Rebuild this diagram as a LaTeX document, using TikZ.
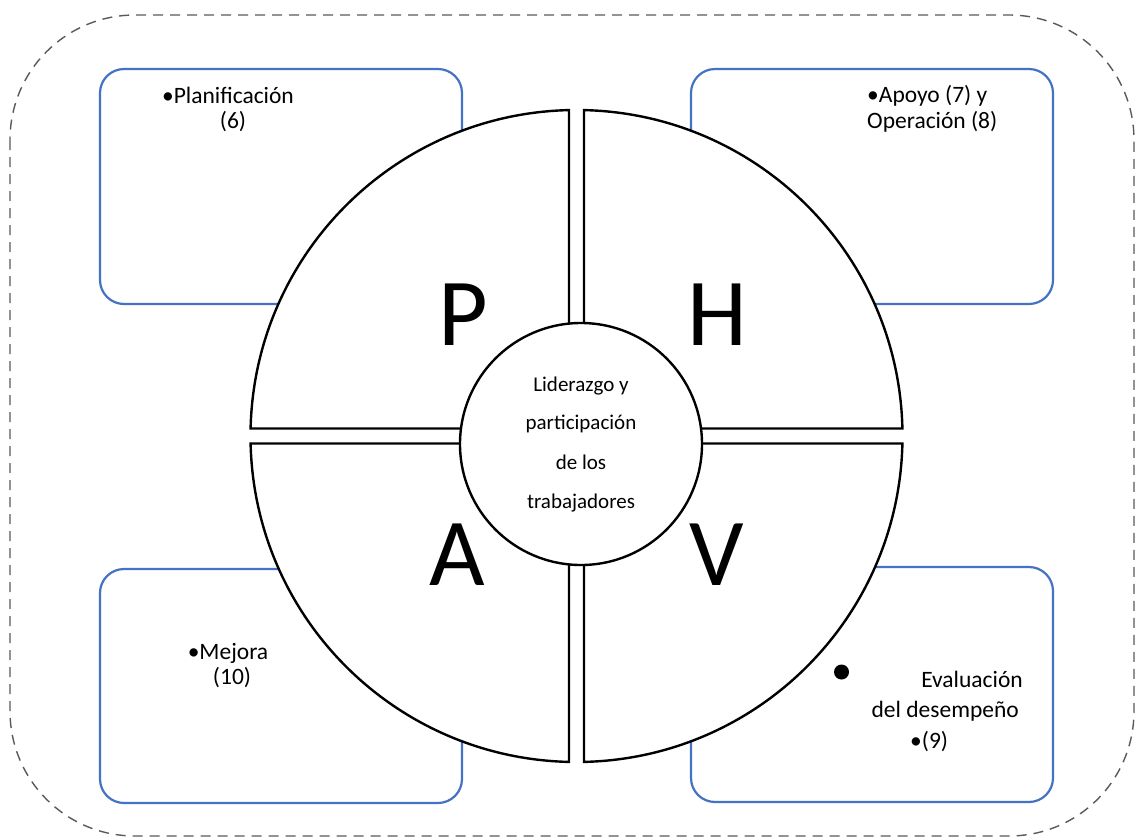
\documentclass[tikz,border=0pt]{standalone}
\usepackage{fontspec}
\setmainfont{Carlito}
\definecolor{boxblue}{HTML}{4472C4}
\definecolor{dashgray}{HTML}{5A5A5A}
\begin{document}
\begin{tikzpicture}[x=1pt,y=-1pt,
  bluebox/.style={draw=boxblue, line width=2.2pt, rounded corners=24pt, inner sep=0pt},
  quad/.style={draw=black, line width=2.4pt, fill=white},
  bigletter/.style={font=\fontsize{96}{96}\selectfont, anchor=base, inner sep=0pt},
  boxtxt/.style={font=\fontsize{23.5}{26}\selectfont, inner sep=0pt},
  coretxt/.style={font=\fontsize{21}{39}\selectfont, align=center},
]
\useasboundingbox (0,0) rectangle (1136,839);
\fill[white] (0,0) rectangle (1136,839);
% outer dashed frame
\draw[dashgray, line width=1.4pt, dash pattern=on 10pt off 7pt, rounded corners=125pt]
  (10,15) rectangle (1134,836);
% blue boxes
\node[bluebox, minimum width=362pt, minimum height=235pt] (bTL) at (281,186.5) {};
\node[bluebox, minimum width=362pt, minimum height=235pt] (bTR) at (872,186.5) {};
\node[bluebox, minimum width=362pt, minimum height=234pt] (bBL) at (281,686) {};
\node[bluebox, minimum width=362pt, minimum height=235pt] (bBR) at (872,684.5) {};
% quadrants (centre 576.5,436; R=326; half gap 7.5)
\draw[quad] (569,428.5) -- (569,110.09)
  arc[start angle=-91.318, end angle=-178.682, radius=326] -- cycle;
\draw[quad] (584,428.5) -- (584,110.09)
  arc[start angle=-88.682, end angle=-1.318, radius=326] -- cycle;
\draw[quad] (584,443.5) -- (902.41,443.5)
  arc[start angle=1.318, end angle=88.682, radius=326] -- cycle;
\draw[quad] (569,443.5) -- (569,761.91)
  arc[start angle=91.318, end angle=178.682, radius=326] -- cycle;
% central circle
\node[circle, draw=black, fill=white, line width=2.4pt, minimum size=242pt, coretxt] (core) at (581,444)
  {Liderazgo y\\participación\\de los\\trabajadores};
% letters
\node[bigletter] (P) at (463,345) {P};
\node[bigletter] (H) at (717,345) {H};
\node[bigletter] (A) at (457,585) {A};
\node[bigletter] (V) at (717,585) {V};
% box texts
\node[boxtxt, anchor=base] (t1a) at (228,103) {•Planificación};
\node[boxtxt, anchor=base] (t1b) at (233,128) {(6)};
\node[boxtxt, anchor=base west] (t2a) at (867,102) {•Apoyo (7) y};
\node[boxtxt, anchor=base west] (t2b) at (867,128) {Operación (8)};
\node[boxtxt, anchor=base] (t3a) at (228,659) {•Mejora};
\node[boxtxt, anchor=base] (t3b) at (232,684) {(10)};
\fill (841.5,672) circle[radius=7.5];
\node[boxtxt, anchor=base east] (t4a) at (1023,687) {Evaluación};
\node[boxtxt, anchor=base east] (t4b) at (1019,717) {del desempeño};
\node[boxtxt, anchor=base west] (t4c) at (910,748) {•(9)};
\end{tikzpicture}
\end{document}
